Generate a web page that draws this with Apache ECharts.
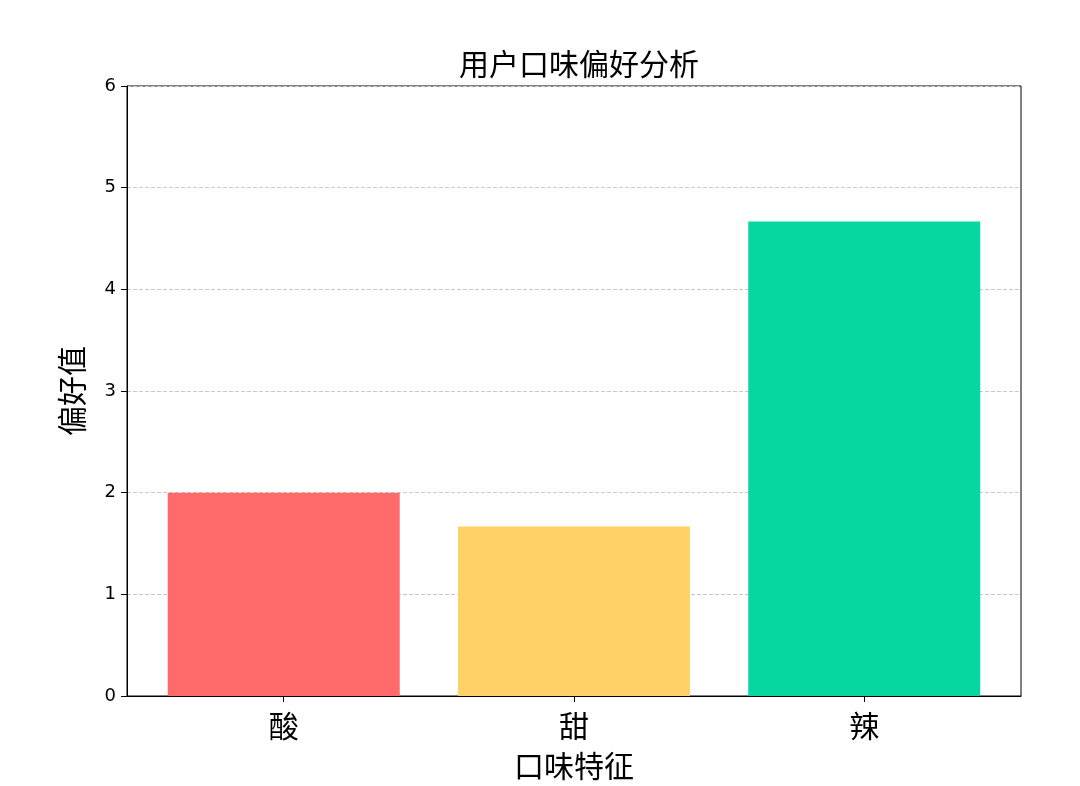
<!DOCTYPE html>
<html>
<head>
<meta charset="utf-8">
<script src="https://cdn.jsdelivr.net/npm/echarts@6/dist/echarts.min.js"></script>
<style>
html,body{margin:0;padding:0;background:#fff;overflow:hidden;width:1080px;height:786px;}
#main{position:absolute;left:0;top:0;width:1080px;height:786px;}
</style>
</head>
<body>
<div id="main"></div>
<script>
const categories = ['酸', '甜', '辣'];
const values = [2.0, 1.667, 4.667];
const colors = ['#FF6B6B', '#FFD166', '#06D6A0'];
const yTicks = [0, 1, 2, 3, 4, 5, 6];

const cjk = '"Noto Sans CJK SC", "DejaVu Sans", sans-serif';
const num = '"DejaVu Sans", sans-serif';

const chart = echarts.init(document.getElementById('main'));
const positions = categories.map((c, i) => i);

chart.setOption({
  animation: false,
  backgroundColor: '#fff',
  title: {
    text: '用户口味偏好分析',
    left: 574, top: 44, textAlign: 'center',
    textStyle: { fontFamily: cjk, fontSize: 30, fontWeight: 'normal', color: '#000' }
  },
  grid: {
    left: 127, right: 59, top: 86, bottom: 88,
    show: true, borderColor: '#000', borderWidth: 1, backgroundColor: 'transparent'
  },
  xAxis: {
    type: 'value', min: -0.54, max: 2.54,
    name: '口味特征', nameLocation: 'middle', nameGap: 55,
    nameTextStyle: { fontFamily: cjk, fontSize: 30, color: '#000' },
    axisLine: { show: true, onZero: false, lineStyle: { color: '#000', width: 1 } },
    axisTick: { show: true, length: 6, lineStyle: { color: '#000' }, customValues: positions },
    axisLabel: {
      customValues: positions, margin: 15,
      fontFamily: cjk, fontSize: 30, color: '#000',
      formatter: v => categories[Math.round(v)]
    },
    splitLine: { show: false }
  },
  yAxis: {
    type: 'value', min: 0, max: 6, interval: 1,
    name: '偏好值', nameLocation: 'middle', nameGap: 40, nameRotate: 90,
    nameTextStyle: { fontFamily: cjk, fontSize: 30, color: '#000' },
    axisLine: { show: true, onZero: false, lineStyle: { color: '#000', width: 1 } },
    axisTick: { show: true, length: 6, lineStyle: { color: '#000' } },
    axisLabel: { margin: 11, fontFamily: num, fontSize: 18, color: '#000',
      formatter: v => yTicks.includes(v) ? String(v) : '' },
    splitLine: { show: true, lineStyle: { color: '#c8c8c8', type: [4, 2], width: 1 } }
  },
  series: [{
    type: 'bar',
    barWidth: 232,
    data: values.map((v, i) => ({ value: [positions[i], v], itemStyle: { color: colors[i] } }))
  }]
});
</script>
</body>
</html>
